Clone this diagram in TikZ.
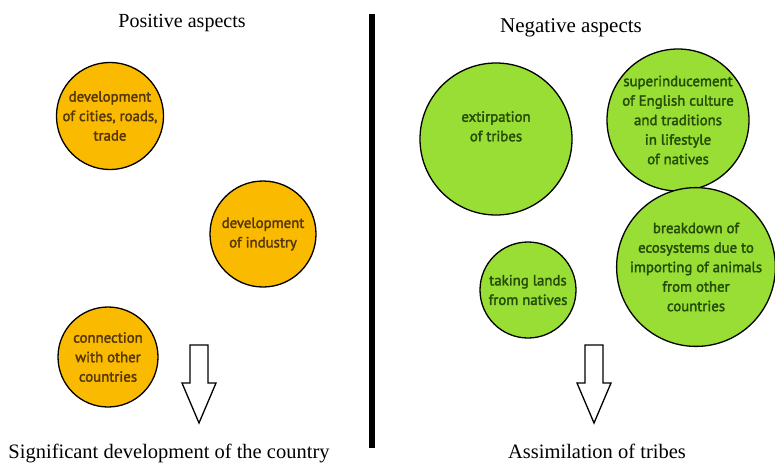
\documentclass[tikz,border=0pt]{standalone}
\usepackage{fontspec}
\setmainfont{Liberation Serif}
\newfontfamily\bubblefont[FakeBold=2]{PT Sans}
\usepackage{tikz}

\definecolor{pos}{RGB}{250,186,0}
\definecolor{postext}{RGB}{85,55,5}
\definecolor{neg}{RGB}{152,222,52}
\definecolor{negtext}{RGB}{36,76,6}

\tikzset{
    bubble/.style={circle, draw=black, line width=1.3pt, align=center, inner sep=0pt,
        font=\bubblefont\fontsize{14.8}{19.5}\selectfont},
    posbubble/.style={bubble, fill=pos, text=postext},
    negbubble/.style={bubble, fill=neg, text=negtext},
    result/.style={anchor=base, font=\fontsize{20.5}{24}\selectfont},
    blockarrow/.style={draw=black, line width=1.3pt, fill=white}
}

\begin{document}
\begin{tikzpicture}[x=1pt, y=-1pt]
    \useasboundingbox (0,0) rectangle (775,464);

    % Divider
    \draw[line width=6pt] (372,14) -- (372,448);

    % Headings
    \node[anchor=base, font=\fontsize{20}{24}\selectfont] (poshead) at (182,27) {Positive aspects};
    \node[anchor=base, font=\fontsize{21}{24}\selectfont] (neghead) at (571,32) {Negative aspects};

    % Positive aspects
    \node[posbubble, minimum size=106pt] (cities) at (110,116) {development\\of cities, roads,\\trade};
    \node[posbubble, minimum size=106pt] (industry) at (263,234) {development\\of industry};
    \node[posbubble, minimum size=100pt] (connect) at (108,357) {connection\\with other\\countries};

    % Negative aspects
    \node[negbubble, minimum size=152pt] (extirp) at (496,139) {extirpation\\of tribes\\[6pt]};
    \node[negbubble, minimum size=140pt] (culture) at (678,120) {superinducement\\of English culture\\and traditions\\in lifestyle\\of natives};
    \node[negbubble, minimum size=96pt] (lands) at (528,290) {taking lands\\from natives};
    \node[negbubble, minimum size=158pt] (ecosys) at (696,267) {breakdown of\\ecosystems due to\\importing of animals\\from other\\countries};

    % Block arrows
    \coordinate (posarrow) at (199,345);
    \coordinate (negarrow) at (594,345);
    \foreach \a in {posarrow, negarrow}
        \draw[blockarrow] (\a) ++(-9,0) -- ++(18,0) -- ++(0,38) -- ++(8,0)
            -- ++(-17,40) -- ++(-17,-40) -- ++(8,0) -- cycle;

    % Results
    \node[result] (posres) at (169,458) {Significant development of the country};
    \node[result] (negres) at (597,458) {Assimilation of tribes};
\end{tikzpicture}
\end{document}
